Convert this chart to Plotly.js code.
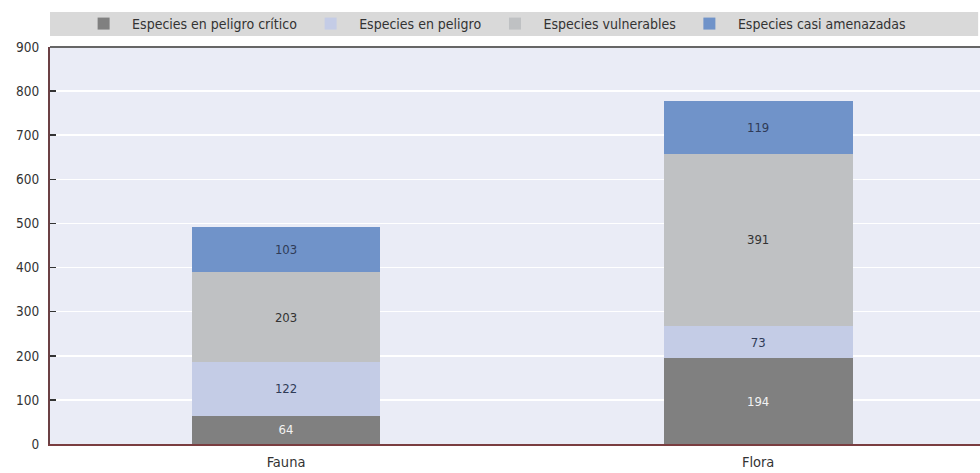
<!DOCTYPE html>
<html>
<head>
<meta charset="utf-8">
<script src="https://cdn.plot.ly/plotly-3.0.1.min.js"></script>
<style>
html,body{margin:0;padding:0;background:#fff;}
#chart{width:980px;height:473px;}
</style>
</head>
<body>
<div id="chart"></div>
<script>
const categories = ["Fauna", "Flora"];
const seriesNames = ["Especies en peligro crítico", "Especies en peligro", "Especies vulnerables", "Especies casi amenazadas"];
const criticoValues = [64, 194];
const peligroValues = [122, 73];
const vulnerablesValues = [203, 391];
const casiValues = [103, 119];
const yTicks = [0, 100, 200, 300, 400, 500, 600, 700, 800, 900];

const FONT = '"DejaVu Sans Condensed", "Liberation Sans Narrow", "Arial Narrow", sans-serif';
const colors = ["#808080", "#c4cce6", "#bfc1c3", "#7093c9"];
const textColors = ["#f2f2f2", "#2f3b57", "#333333", "#2f3b57"];
const allValues = [criticoValues, peligroValues, vulnerablesValues, casiValues];

const traces = allValues.map((vals, i) => ({
  type: "bar",
  name: seriesNames[i],
  x: categories,
  y: vals,
  text: vals.map(String),
  textposition: "inside",
  insidetextanchor: "middle",
  textangle: 0,
  constraintext: "none",
  textfont: {family: FONT, size: 13, color: textColors[i]},
  marker: {color: colors[i], line: {width: 0}},
  width: 0.4,
  hoverinfo: "skip"
}));

const layout = {
  width: 980,
  height: 473,
  margin: {l: 50, r: 0, t: 47, b: 29, pad: 0},
  barmode: "stack",
  paper_bgcolor: "#ffffff",
  plot_bgcolor: "#eaecf6",
  font: {family: FONT, size: 13, color: "#333333"},
  showlegend: true,
  legend: {
    orientation: "h",
    x: 0.027, xanchor: "left",
    y: 1.058, yanchor: "middle",
    bgcolor: "rgba(0,0,0,0)",
    itemwidth: 47,
    font: {family: FONT, size: 14, color: "#333333"},
    traceorder: "normal",
    itemclick: false
  },
  xaxis: {
    range: [-0.5, 1.47],
    showgrid: false,
    showline: true,
    linecolor: "#7a3d40",
    linewidth: 2,
    ticks: "",
    ticklabelstandoff: 4,
    tickfont: {family: FONT, size: 14.5, color: "#333333"},
    fixedrange: true,
    zeroline: false
  },
  yaxis: {
    range: [0, 900],
    tickvals: yTicks,
    showgrid: true,
    gridcolor: "#ffffff",
    gridwidth: 1.5,
    showline: true,
    linecolor: "#6b4044",
    linewidth: 2,
    ticks: "inside",
    ticklen: 6,
    tickwidth: 1.5,
    tickcolor: "#333333",
    ticklabelstandoff: 6,
    tickfont: {family: FONT, size: 13.5, color: "#333333"},
    zeroline: false,
    fixedrange: true
  },
  shapes: [
    {type: "rect", xref: "paper", yref: "paper", x0: 0, x1: 0.998, y0: 1.0277, y1: 1.088,
     fillcolor: "#d9d9d9", line: {width: 0}, layer: "below"},
    {type: "line", xref: "paper", yref: "paper", x0: 0, x1: 1, y0: 1, y1: 1,
     line: {color: "#666666", width: 2}}
  ]
};

Plotly.newPlot("chart", traces, layout, {displayModeBar: false, staticPlot: true});
</script>
</body>
</html>
